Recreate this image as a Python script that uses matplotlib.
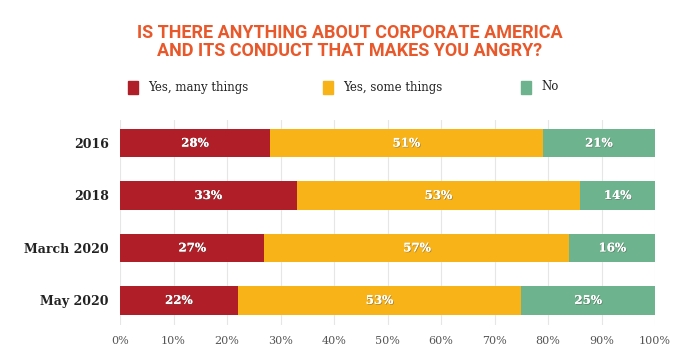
import matplotlib
matplotlib.use("Agg")
import matplotlib.pyplot as plt
import matplotlib.patheffects as pe
import numpy as np

categories = ["2016", "2018", "March 2020", "May 2020"]
series_names = ["Yes, many things", "Yes, some things", "No"]
many = [28, 33, 27, 22]
some = [51, 53, 57, 53]
no = [21, 14, 16, 25]
colors = ["#B01E28", "#F8B319", "#6DB38D"]
xticks = [0, 10, 20, 30, 40, 50, 60, 70, 80, 90, 100]

fig = plt.figure(figsize=(7.0, 3.53), dpi=100)
ax = fig.add_axes([120/700, 1-325/353, 535/700, 205/353])

y = np.arange(len(categories))
left = np.zeros(len(categories))
serif = ["DejaVu Serif"]
for vals, col, name in zip([many, some, no], colors, series_names):
    vals = np.array(vals, dtype=float)
    ax.barh(y, vals, left=left, height=0.55, color=col, edgecolor="none", zorder=2, label=name)
    for yi, l, v in zip(y, left, vals):
        ax.text(l + v/2, yi, f"{int(v)}%", ha="center", va="center", color="white",
                fontsize=8.5, fontweight="bold", family=serif, zorder=3,
                path_effects=[pe.withSimplePatchShadow(offset=(0.6, -0.6), shadow_rgbFace="#555555", alpha=0.5), pe.Normal()])
    left += vals

ax.set_xlim(0, 100)
ax.set_ylim(3.47, -0.44)
ax.set_yticks(y)
ax.set_yticklabels(categories, fontsize=9, fontweight="bold", family=serif, color="#222222")
ax.set_xticks(xticks)
ax.set_xticklabels([f"{t}%" for t in xticks], fontsize=8, family=serif, color="#555555")
ax.tick_params(axis="both", length=0)
ax.tick_params(axis="y", pad=8)
ax.tick_params(axis="x", pad=8)
ax.grid(axis="x", color="#E6E6E6", linewidth=0.8, zorder=0)
for s in ax.spines.values():
    s.set_visible(False)

fig.text(0.5, 1-33/353, "IS THERE ANYTHING ABOUT CORPORATE AMERICA", ha="center", va="center",
         color="#E8582A", fontsize=13, fontweight="bold", family=["Roboto"])
fig.text(0.5, 1-51/353, "AND ITS CONDUCT THAT MAKES YOU ANGRY?", ha="center", va="center",
         color="#E8582A", fontsize=13, fontweight="bold", family=["Roboto"])

# legend
leg_x = [128/700, 323/700, 521/700]
leg_y = 1-87/353
for lx, col, name in zip(leg_x, colors, series_names):
    fig.patches.append(plt.Rectangle((lx, leg_y - 6.5/353), 10/700, 13/353, transform=fig.transFigure,
                                     color=col, figure=fig))
    fig.text(lx + 20/700, leg_y, name, ha="left", va="center", fontsize=8.5, family=serif, color="#222222")

fig.savefig("out.png", dpi=100)
